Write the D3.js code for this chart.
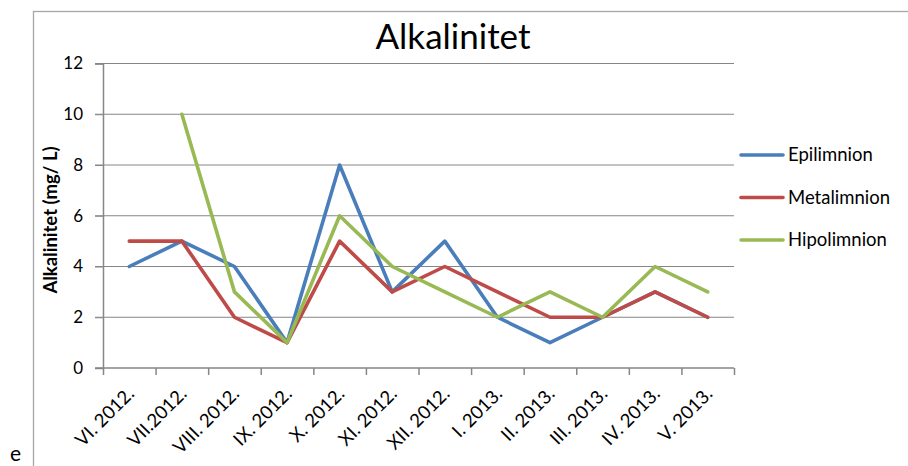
<!DOCTYPE html>
<html><head><meta charset="utf-8">
<script src="https://cdn.jsdelivr.net/npm/d3@7"></script>
<style>html,body{margin:0;padding:0;background:#fff;overflow:hidden}svg{display:block;font-family:Lato,"Open Sans",sans-serif}</style>
</head><body>
<svg id="c" width="908" height="466"></svg>
<script>
const categories = ["VI. 2012.","VII.2012.","VIII. 2012.","IX. 2012.","X. 2012.","XI. 2012.","XII. 2012.","I. 2013.","II. 2013.","III. 2013.","IV. 2013.","V. 2013."];
const epilimnion  = [4,5,4,1,8,3,5,2,1,2,3,2];
const metalimnion = [5,5,2,1,5,3,4,3,2,2,3,2];
const hipolimnion = [null,10,3,1,6,4,3,2,3,2,4,3];
const yTicks = [0,2,4,6,8,10,12];
const seriesNames = ["Epilimnion","Metalimnion","Hipolimnion"];
const seriesColors = ["#4A7EBB","#BE4B48","#98B954"];
const title = "Alkalinitet";
const yTitle = "Alkalinitet (mg/ L)";

const series = [epilimnion, metalimnion, hipolimnion].map((v,i)=>({name:seriesNames[i], color:seriesColors[i], values:v}));
const svg = d3.select("#c");
const L = 103, R = 734, T = 63.5, B = 368;

// outer chart border (extends beyond view)
svg.append("rect").attr("x",33.5).attr("y",11.5).attr("width",1000).attr("height",600)
  .attr("fill","none").attr("stroke","#a6a6a6").attr("stroke-width",1.3);

const x = d3.scaleBand().domain(categories).range([L,R]).padding(0);
const xb = d3.scaleLinear().domain([0,categories.length]).range([L,R]);
const y = d3.scaleLinear().domain([0,12]).range([B,T]);

// gridlines
svg.append("g").selectAll("line").data(yTicks.filter(d=>d>0)).join("line")
  .attr("x1",95).attr("x2",R).attr("y1",d=>y(d)).attr("y2",d=>y(d))
  .attr("stroke","#868686").attr("stroke-width",1);

// y axis
const ya = svg.append("g").attr("transform",`translate(${L},0)`)
  .call(d3.axisLeft(y).tickValues(yTicks).tickSize(8).tickPadding(12));
ya.select(".domain").attr("stroke","#868686").attr("stroke-width",1.5);
ya.selectAll(".tick line").attr("stroke","#868686").attr("stroke-width",1);
ya.selectAll("text").attr("font-size",17).attr("fill","#000").attr("font-family","Lato");

// x axis
const xa = svg.append("g").attr("transform",`translate(0,${B})`)
  .call(d3.axisBottom(xb).tickValues(d3.range(categories.length+1)).tickSize(7).tickFormat(""));
xa.select(".domain").attr("stroke","#868686").attr("stroke-width",1.5).attr("d",`M95,0H${R}`);
xa.selectAll(".tick line").attr("stroke","#868686").attr("stroke-width",1.5);

svg.append("g").selectAll("text").data(categories).join("text")
  .attr("transform",d=>`translate(${x(d)+x.bandwidth()/2+6},${B+27}) rotate(-45)`)
  .attr("text-anchor","end").attr("font-size",18.5).attr("fill","#000").text(d=>d);

// lines
const line = d3.line().defined(d=>d.v!=null).x(d=>x(d.c)+x.bandwidth()/2).y(d=>y(d.v));
svg.append("g").selectAll("path").data(series).join("path")
  .attr("d",s=>line(s.values.map((v,i)=>({c:categories[i],v}))))
  .attr("fill","none").attr("stroke",s=>s.color).attr("stroke-width",3.6)
  .attr("stroke-linejoin","round").attr("stroke-linecap","round");

// title
svg.append("text").attr("x",453).attr("y",49).attr("text-anchor","middle")
  .attr("font-size",35).attr("fill","#000").text(title);

// y title
svg.append("text").attr("transform",`translate(57,220) rotate(-90)`).attr("text-anchor","middle")
  .attr("font-size",18.5).attr("font-weight","bold").attr("fill","#000").text(yTitle);

// legend
const lg = svg.append("g").selectAll("g").data(series).join("g")
  .attr("transform",(d,i)=>`translate(740,${155+i*42.5})`);
lg.append("line").attr("x1",1).attr("x2",43).attr("stroke",d=>d.color).attr("stroke-width",3.6).attr("stroke-linecap","round");
lg.append("text").attr("x",48).attr("dy","0.35em").attr("font-size",18.5).attr("fill","#000").text(d=>d.name);

// cut-off text from adjacent chart
svg.append("text").attr("x",10).attr("y",461).attr("font-size",21).attr("fill","#000").text("e");
</script>
</body></html>
